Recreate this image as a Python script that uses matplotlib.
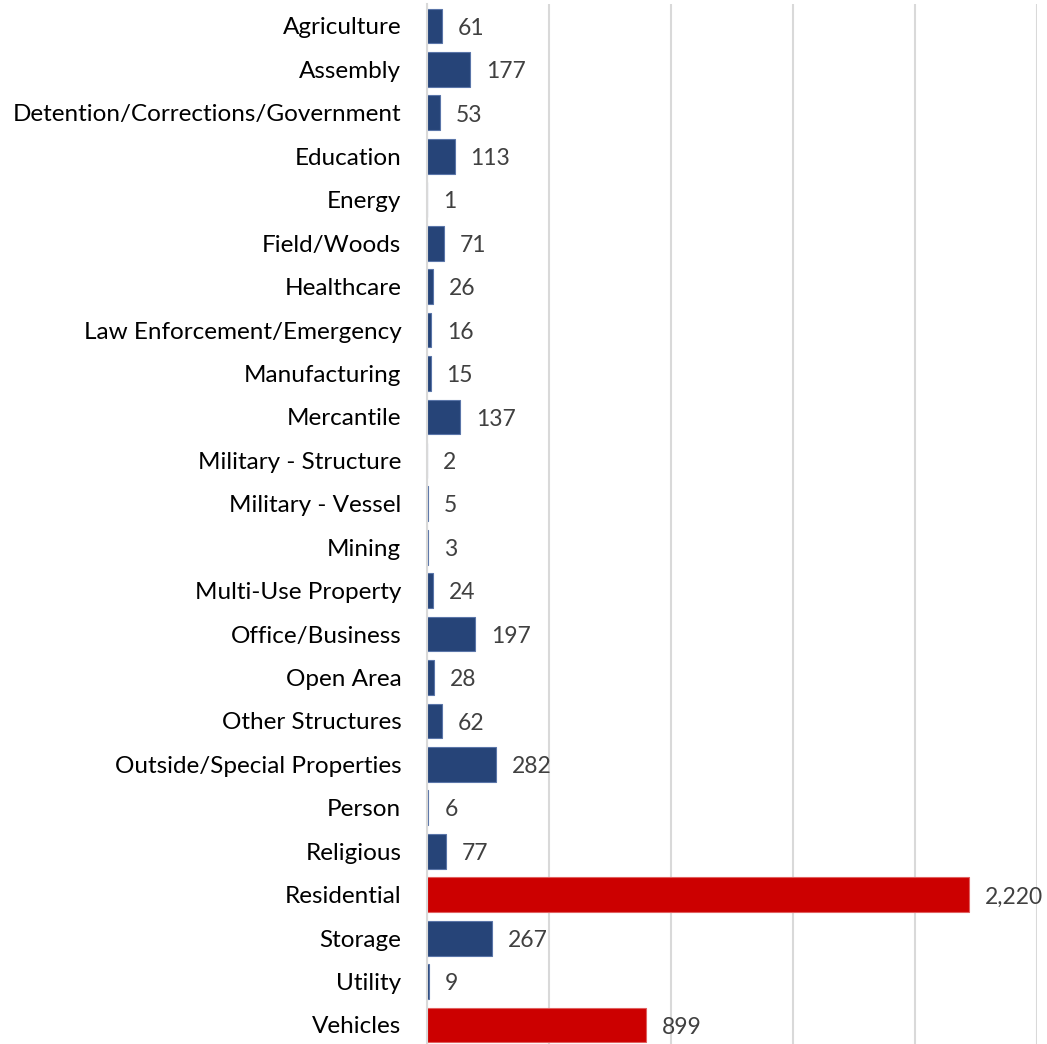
import matplotlib
matplotlib.use('Agg')
import matplotlib.pyplot as plt

# Incidents by property type
categories = ['Agriculture', 'Assembly', 'Detention/Corrections/Government', 'Education',
              'Energy', 'Field/Woods', 'Healthcare', 'Law Enforcement/Emergency',
              'Manufacturing', 'Mercantile', 'Military - Structure', 'Military - Vessel',
              'Mining', 'Multi-Use Property', 'Office/Business', 'Open Area',
              'Other Structures', 'Outside/Special Properties', 'Person', 'Religious',
              'Residential', 'Storage', 'Utility', 'Vehicles']
counts = [61, 177, 53, 113, 1, 71, 26, 16, 15, 137, 2, 5, 3, 24, 197, 28, 62, 282,
          6, 77, 2220, 267, 9, 899]
highlight = ['Residential', 'Vehicles']

plt.rcParams['font.family'] = ['Lato', 'DejaVu Sans']

fig = plt.figure(figsize=(10.47, 10.44), dpi=100)
ax = fig.add_axes([0.4078, -0.0026, 0.5826, 0.9985])

colors = ['#CC0000' if c in highlight else '#264478' for c in categories]
edges = ['#E06060' if c in highlight else '#5A75A8' for c in categories]
pos = list(range(len(categories)))
ax.barh(pos, counts, height=0.8, color=colors, edgecolor=edges, linewidth=0.8, zorder=3)

for p, v in zip(pos, counts):
    ax.text(v + 65, p + 0.05, f'{v:,}', va='center', ha='left', fontsize=16.5, color='#404040')

ax.set_yticks(pos)
ax.set_yticklabels(categories, fontsize=17.5, color='black')
ax.set_ylim(len(categories) - 0.5, -0.5)
ax.set_xlim(0, 2500)
ax.set_xticks([0, 500, 1000, 1500, 2000, 2500])
ax.xaxis.grid(True, color='#D9D9D9', linewidth=1.5, zorder=0)
ax.tick_params(axis='x', length=0, labelbottom=False)
ax.tick_params(axis='y', length=0, pad=18.5)
for s in ['top', 'right', 'bottom']:
    ax.spines[s].set_visible(False)
ax.spines['left'].set_color('#D9D9D9')
ax.spines['left'].set_linewidth(1.5)
ax.spines['left'].set_zorder(4)

fig.savefig('out.png', dpi=100)
